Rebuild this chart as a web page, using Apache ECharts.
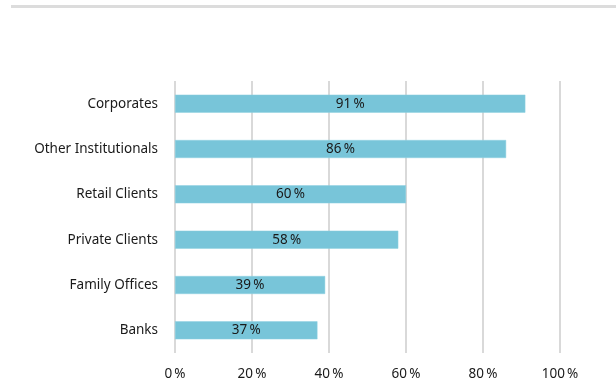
<!DOCTYPE html>
<html>
<head>
<meta charset="utf-8">
<script src="https://cdn.jsdelivr.net/npm/echarts@6/dist/echarts.min.js"></script>
<style>
  html, body { margin: 0; padding: 0; background: #fff; }
  #chart { width: 616px; height: 387px; }
</style>
</head>
<body>
<div id="chart"></div>
<script>
// Client segments, listed bottom-to-top as drawn on the category axis
const categories = ['Banks', 'Family Offices', 'Private Clients', 'Retail Clients', 'Other Institutionals', 'Corporates'];
const shares = [37, 39, 58, 60, 86, 91];
const tickValues = [0, 20, 40, 60, 80, 100];

const NNBSP = '\u202F';
const FONT = '"Noto Sans", "Open Sans", sans-serif';

const chart = echarts.init(document.getElementById('chart'), null, { renderer: 'canvas' });
chart.setOption({
  animation: false,
  backgroundColor: '#ffffff',
  graphic: [{
    type: 'rect',
    shape: { x: 11, y: 5, width: 605, height: 3 },
    style: { fill: '#dcdcdc' },
    silent: true
  }],
  grid: { left: 175, right: 56, top: 81, bottom: 34, containLabel: false },
  xAxis: {
    type: 'value',
    min: tickValues[0],
    max: tickValues[tickValues.length - 1],
    interval: 20,
    axisLine: { show: false },
    axisTick: { show: false },
    splitLine: { show: true, lineStyle: { color: '#d9d9d9', width: 2 } },
    axisLabel: {
      margin: 14,
      color: '#1a1a1a',
      fontFamily: FONT,
      fontSize: 13.5,
      formatter: v => v + NNBSP + '%'
    }
  },
  yAxis: {
    type: 'category',
    data: categories,
    axisLine: { show: false },
    axisTick: { show: false },
    axisLabel: {
      margin: 17,
      color: '#1a1a1a',
      fontFamily: FONT,
      fontSize: 13.5
    }
  },
  series: [{
    type: 'bar',
    data: shares,
    barWidth: 18,
    itemStyle: { color: '#78c5d9', borderColor: '#8fd0e0', borderWidth: 0.5 },
    label: {
      show: true,
      position: 'inside',
      color: '#1a1a1a',
      fontFamily: FONT,
      fontSize: 13.5,
      formatter: p => p.value + NNBSP + '%'
    }
  }]
});
</script>
</body>
</html>
